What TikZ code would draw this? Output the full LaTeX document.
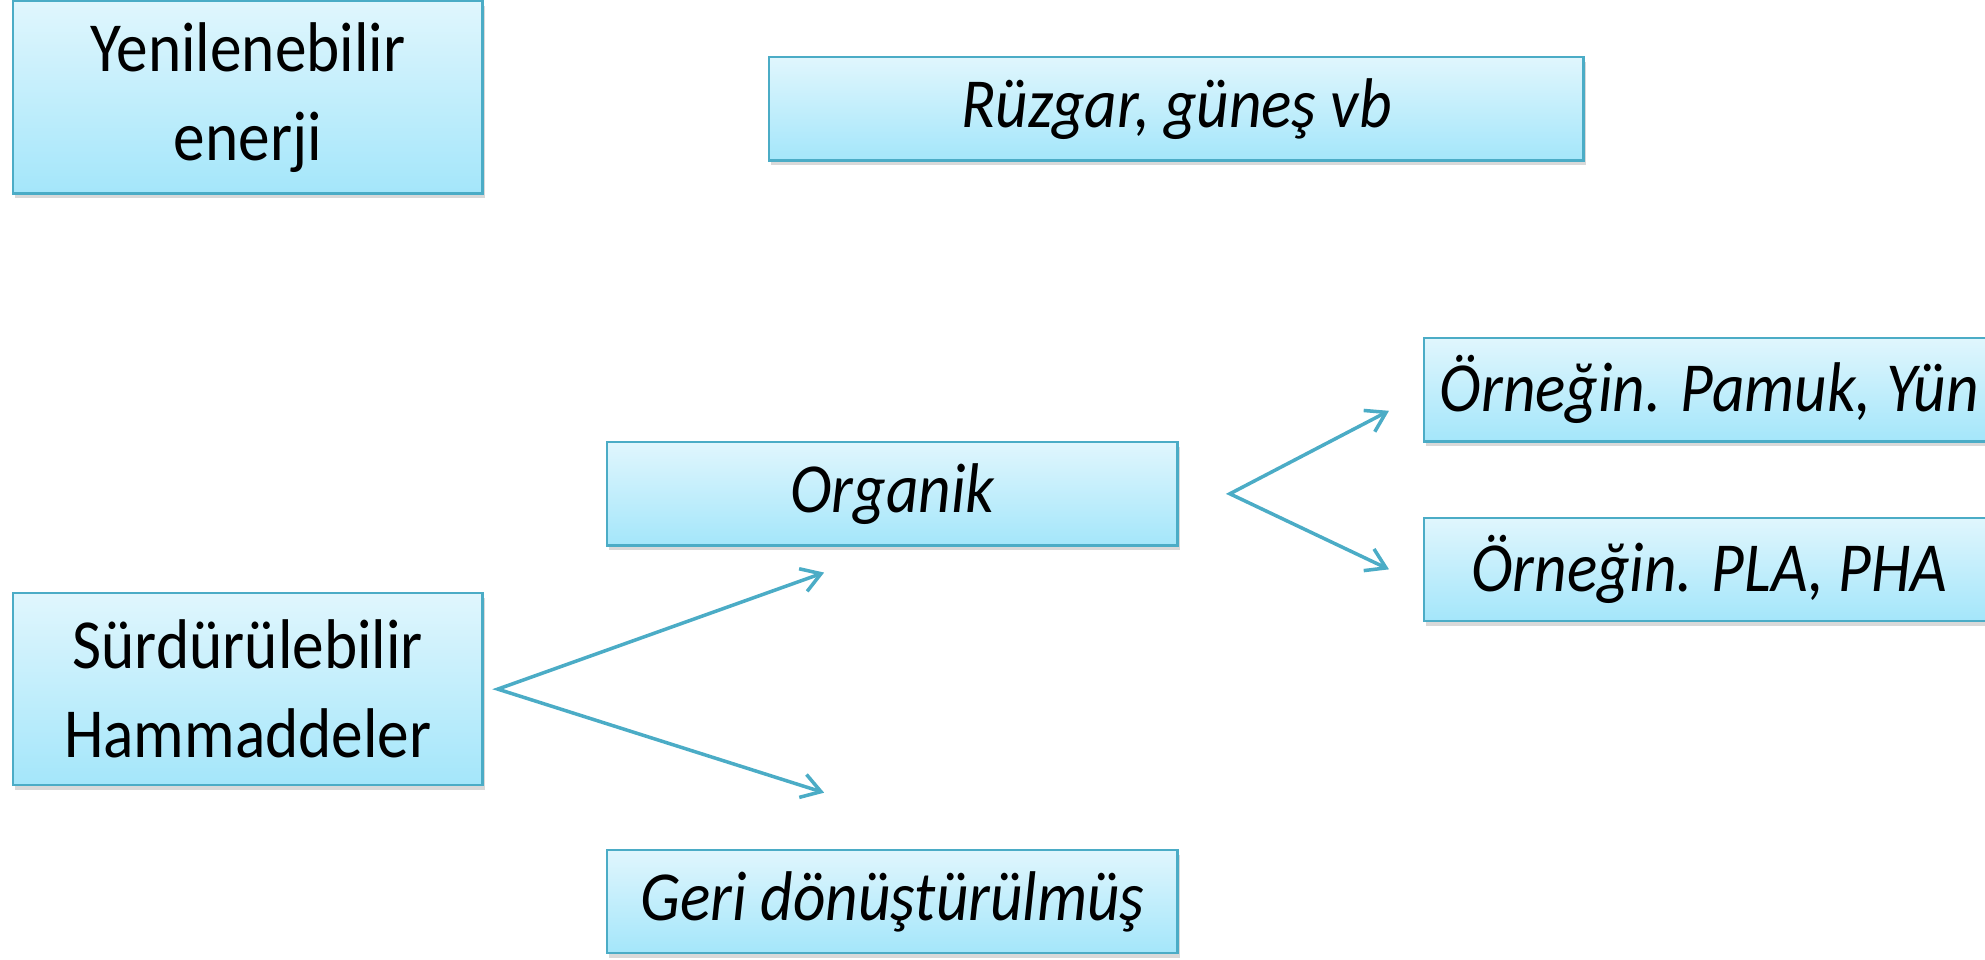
\documentclass[tikz,border=0pt]{standalone}
\usepackage{fontspec}
\setmainfont{Carlito}[FakeStretch=0.9]
\usetikzlibrary{arrows.meta, positioning, shadows}
\definecolor{boxtop}{HTML}{E0F6FD}
\definecolor{boxbot}{HTML}{A4E6FA}
\definecolor{boxline}{HTML}{4BACC6}

\begin{document}
\begin{tikzpicture}[
    x=0.01cm, y=-0.01cm,
    box/.style={draw=boxline, line width=0.7pt, top color=boxtop, bottom color=boxbot,
                drop shadow={shadow xshift=0.02cm, shadow yshift=-0.05cm, opacity=0.3},
                text centered, inner sep=0pt},
    main/.style={box, align=center, minimum width=4.69cm, minimum height=1.92cm,
                 font=\fontsize{20}{25.3}\selectfont},
    sub/.style={box, minimum width=5.70cm, minimum height=1.03cm,
                font=\fontsize{20}{24}\selectfont\itshape},
    arr/.style={{Straight Barb[length=0.19cm, width=0.24cm]}-{Straight Barb[length=0.19cm, width=0.24cm]},
                line width=1pt, boxline},
  ]
  \useasboundingbox (0,0) rectangle (1985,959);
  \clip (0,0) rectangle (1985,959);

  % Left column
  \node[main, anchor=north west] (ren) at (12,0) {Yenilenebilir\\enerji};
  \node[main, below=3.97cm of ren] (sur) {Sürdürülebilir\\Hammaddeler};

  % Top
  \node[sub, anchor=north west, minimum width=8.14cm] (ruz) at (768,56) {Rüzgar, güneş vb};

  % Middle column
  \node[sub, anchor=north west] (org) at (606,441) {Organik};
  \node[sub, below=3.02cm of org] (geri) {Geri dönüştürülmüş};

  % Right column (runs past the page edge)
  \node[sub, anchor=north west] (pam) at (1423,337) {Örneğin. Pamuk, Yün};
  \node[sub, below=0.74cm of pam] (pla) {Örneğin. PLA, PHA};

  % Forks
  \coordinate (fork1) at ([xshift=0.14cm]sur.east);
  \coordinate (orgtip) at ([xshift=2.18cm, yshift=-0.26cm]org.south west);
  \coordinate (geritip) at ([xshift=2.18cm, yshift=0.56cm]geri.north west);
  \coordinate (fork2) at ([xshift=0.51cm]org.east);
  \coordinate (pamtip) at ([xshift=-0.34cm, yshift=-0.21cm]pam.west);
  \coordinate (platip) at ([xshift=-0.34cm]pla.west);

  % Arrows
  \draw[arr] (orgtip) -- (fork1) -- (geritip);
  \draw[arr] (pamtip) -- (fork2) -- (platip);

\end{tikzpicture}
\end{document}
